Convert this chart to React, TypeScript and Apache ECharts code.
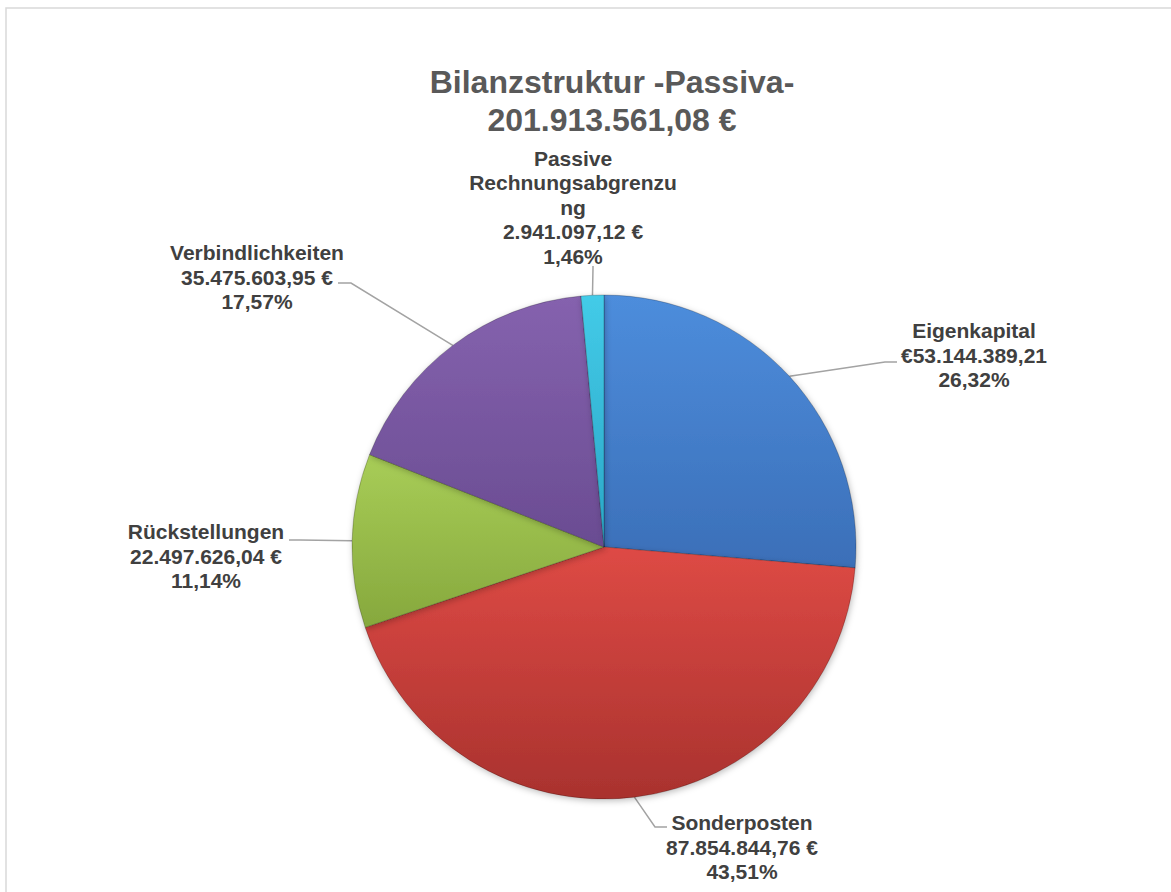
import React, { useEffect, useRef } from "react";
import * as echarts from "echarts";

const TITLE_LINES = ["Bilanzstruktur -Passiva-", "201.913.561,08 €"];
const CATEGORIES = ["Eigenkapital", "Sonderposten", "Rückstellungen", "Verbindlichkeiten", "Passive Rechnungsabgrenzung"];
const LABEL_NAMES = ["Eigenkapital", "Sonderposten", "Rückstellungen", "Verbindlichkeiten", "Passive\nRechnungsabgrenzu\nng"];
const VALUES = [53144389.21, 87854844.76, 22497626.04, 35475603.95, 2941097.12];
const CURRENCY_PREFIX = [true, false, false, false, false];

const COLORS_TOP = ["#4d8ddc", "#de4a45", "#a8cd57", "#8562ae", "#43cbe8"];
const COLORS_BOTTOM = ["#3b6fb8", "#a9322e", "#86a83d", "#6a4c92", "#2aa6c6"];

// label layout (block centers and leader line bend points), in page pixels
const LABEL_POS = [
  { x: 974, y: 355, pts: [[885, 362], [897, 362]] },
  { x: 742, y: 847, pts: [[655, 827], [667, 827]] },
  { x: 206, y: 556, pts: [[300, 540], [289, 540]] },
  { x: 257, y: 277, pts: [[351, 283], [338, 283]] },
  { x: 573, y: 207, pts: [[593, 268], [593, 266]] },
];

function fmtDE(v: number): string {
  const [i, d] = v.toFixed(2).split(".");
  return i.replace(/\B(?=(\d{3})+(?!\d))/g, ".") + "," + d;
}

export default function App() {
  const ref = useRef<HTMLDivElement>(null);
  useEffect(() => {
    if (!ref.current) return;
    const chart = echarts.init(ref.current, null, { renderer: "svg" });
    const data = CATEGORIES.map((name, i) => ({
      name,
      value: VALUES[i],
      itemStyle: {
        color: new echarts.graphic.LinearGradient(0, 0, 0, 1, [
          { offset: 0, color: COLORS_TOP[i] },
          { offset: 1, color: COLORS_BOTTOM[i] },
        ]),
      },
    }));
    chart.setOption({
      animation: false,
      backgroundColor: "#ffffff",
      title: {
        text: TITLE_LINES.join("\n"),
        left: 607,
        top: 58,
        textAlign: "center",
        textStyle: {
          fontFamily: "Liberation Sans, Arial, sans-serif",
          fontSize: 32,
          fontWeight: "bold",
          color: "#595959",
          lineHeight: 38,
        },
      },
      graphic: [
        {
          type: "rect",
          shape: { x: 6, y: 8, width: 1300, height: 1000 },
          style: { fill: "none", stroke: "#d9d9d9", lineWidth: 1.5 },
          silent: true,
        },
      ],
      series: [
        {
          type: "pie",
          center: [604, 547],
          radius: 252,
          startAngle: 90,
          clockwise: true,
          avoidLabelOverlap: false,
          data,
          itemStyle: {
            borderColor: "rgba(0,0,0,0.22)",
            borderWidth: 1,
            shadowColor: "rgba(0,0,0,0.25)",
            shadowBlur: 6,
            shadowOffsetX: 1,
            shadowOffsetY: 2,
          },
          label: {
            show: true,
            position: "outside",
            fontFamily: "Liberation Sans, Arial, sans-serif",
            fontSize: 21,
            fontWeight: "bold",
            color: "#404040",
            lineHeight: 24.5,
            align: "center",
            formatter: (p: any) => {
              const i = p.dataIndex;
              const val = CURRENCY_PREFIX[i] ? "€" + fmtDE(p.value) : fmtDE(p.value) + " €";
              const pct = p.percent.toFixed(2).replace(".", ",") + "%";
              return LABEL_NAMES[i] + "\n" + val + "\n" + pct;
            },
          },
          labelLine: {
            show: true,
            lineStyle: { color: "#a3a3a3", width: 1.5 },
          },
          labelLayout: (params: any) => {
            const lp = LABEL_POS[params.dataIndex];
            const start = params.labelLinePoints ? params.labelLinePoints[0] : lp.pts[0];
            return {
              x: lp.x,
              y: lp.y,
              align: "center",
              verticalAlign: "middle",
              labelLinePoints: [start, lp.pts[0], lp.pts[1]],
            };
          },
        },
      ],
    });
    return () => chart.dispose();
  }, []);
  return (
    <div
      ref={ref}
      style={{ position: "fixed", left: 0, top: 0, width: 1171, height: 892 }}
    />
  );
}
